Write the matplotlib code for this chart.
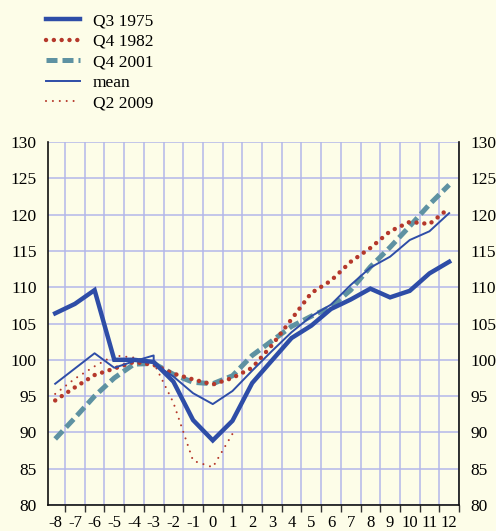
import matplotlib
matplotlib.use("Agg")
import matplotlib.pyplot as plt
from matplotlib.ticker import FixedLocator

plt.rcParams["font.family"] = ["Liberation Serif", "DejaVu Serif"]

# quarters relative to trough
quarters = list(range(-8, 13))
q3_1975 = [106.4, 107.7, 109.6, 100.0, 100.0, 99.7, 97.0, 91.7, 88.9, 91.6, 96.8,
           99.9, 103.0, 104.7, 107.0, 108.3, 109.8, 108.6, 109.5, 111.9, 113.5]
q4_1982 = [94.4, 96.2, 97.9, 98.8, 99.7, 99.3, 98.1, 97.3, 96.6, 97.5, 98.9,
           102.0, 105.6, 109.2, 110.9, 113.5, 115.4, 117.7, 119.0, 118.7, 120.9]
q4_2001 = [89.1, 92.0, 95.0, 97.5, 99.4, 99.5, 98.0, 96.9, 96.7, 97.8, 100.6,
           102.6, 104.6, 106.0, 107.3, 109.6, 112.8, 115.5, 118.4, 121.4, 124.1]
# mean has a step at -3
mean_x = [-8, -7, -6, -5, -4, -3, -3, -2, -1, 0, 1, 2, 3, 4, 5, 6, 7, 8, 9, 10, 11, 12]
mean_y = [96.7, 98.8, 100.9, 98.9, 99.8, 100.6, 99.5, 97.7, 95.4, 93.9, 95.7, 98.5,
          101.2, 103.8, 106.0, 107.6, 110.3, 112.7, 114.2, 116.5, 117.7, 120.2]
q2_2009_x = list(range(-8, 2))
q2_2009 = [95.3, 97.4, 99.1, 100.6, 100.3, 99.6, 94.1, 86.1, 85.2, 89.8]

y_ticks = [80, 85, 90, 95, 100, 105, 110, 115, 120, 125, 130]

bg = "#FDFDE8"
blue = "#2E4DA7"
red = "#B5382B"
teal = "#5E92A2"
grid_col = "#B3B7EA"

W, H = 496, 531
fig = plt.figure(figsize=(W / 100, H / 100), dpi=100, facecolor=bg)
ax = fig.add_axes([47.7 / W, 1 - 505 / H, (459 - 47.7) / W, (505 - 142) / H])
ax.set_facecolor(bg)

ax.plot(quarters, q3_1975, color=blue, lw=3.2, solid_joinstyle="miter",
        label="Q3 1975", zorder=5)
ax.plot(quarters, q4_1982, color=red, lw=3.2, linestyle=(0, (0.01, 1.75)),
        dash_capstyle="round", label="Q4 1982", zorder=4)
ax.plot(quarters, q4_2001, color=teal, lw=3.6, linestyle=(0, (2.2, 1.0)),
        label="Q4 2001", zorder=3)
ax.plot(mean_x, mean_y, color=blue, lw=1.4, label="mean", zorder=6)
ax.plot(q2_2009_x, q2_2009, color=red, lw=1.5, linestyle=(0, (0.01, 3.3)),
        dash_capstyle="round", label="Q2 2009", zorder=2)

ax.set_xlim(-8.38, 12.5)
ax.set_ylim(80, 130)

ax.set_xticks(quarters)
ax.set_xticklabels([str(q) for q in quarters])
ax.xaxis.set_minor_locator(FixedLocator([q + 0.5 for q in range(-9, 13)]))
ax.tick_params(axis="x", which="major", length=0, pad=7, labelsize=12)
ax.tick_params(axis="x", which="minor", length=5, width=1, color="#333333", direction="out")

ax.set_yticks(y_ticks)
ax.tick_params(axis="y", which="both", length=0, pad=8, labelsize=12.5,
               labelleft=True, labelright=True)

ax.grid(axis="y", which="major", color=grid_col, lw=1.1)
ax.grid(axis="x", which="minor", color=grid_col, lw=1.1)
ax.set_axisbelow(True)

ax.spines["top"].set_visible(False)
for side in ("left", "right", "bottom"):
    ax.spines[side].set_color("#111111")
    ax.spines[side].set_linewidth(1.2)

fig.legend(loc="upper left", bbox_to_anchor=(39 / W, 1 - 6 / H), frameon=False,
           fontsize=12.5, handlelength=1.96, handletextpad=0.75, labelspacing=0.25,
           borderaxespad=0)

fig.savefig("out.png", dpi=100, facecolor=bg)
